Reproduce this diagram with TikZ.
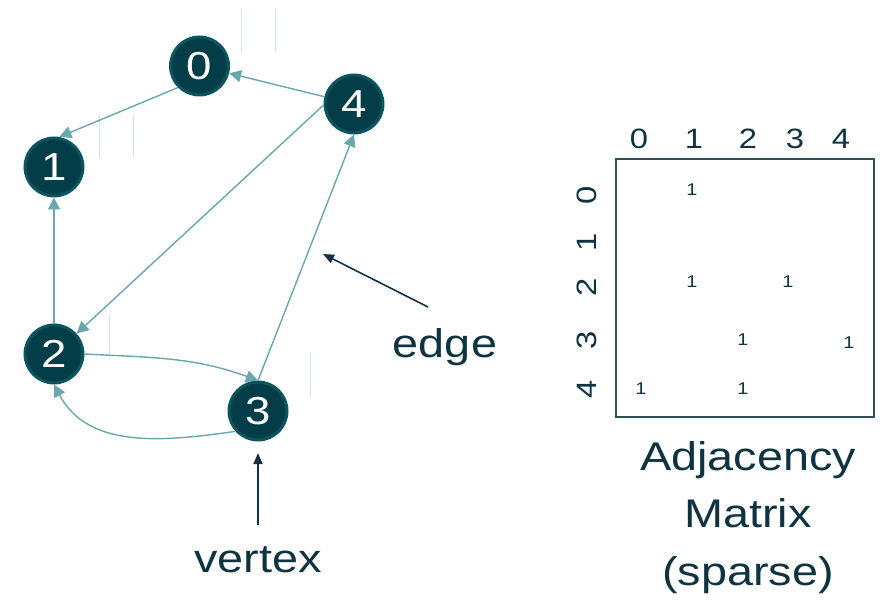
\documentclass[tikz,border=0pt]{standalone}
\usepackage{fontspec}
\setmainfont[FakeStretch=1.17]{Liberation Sans}
\usetikzlibrary{arrows.meta}
\definecolor{nodefill}{HTML}{033D47}
\definecolor{nodering}{HTML}{0A5560}
\definecolor{edgecol}{HTML}{6AA6AD}
\definecolor{txtcol}{HTML}{0D3440}
\definecolor{pointcol}{HTML}{12304A}
\definecolor{faintcol}{HTML}{D3E4E7}
\definecolor{boxcol}{HTML}{2F4F5A}
\tikzset{
  vert/.style={circle, fill=nodefill, draw=nodering, line width=3pt, minimum size=58pt, inner sep=0pt,
    text=white, font=\fontsize{39}{40}\selectfont},
  gedge/.style={draw=edgecol, line width=1.4pt, -{Triangle[length=12pt,width=12pt]}},
  pointer/.style={draw=pointcol, line width=1.6pt, -{Triangle[length=11pt,width=9pt]}},
  biglabel/.style={text=txtcol, font=\fontsize{40}{57.5}\selectfont, inner sep=0pt},
  axlabel/.style={text=txtcol, font=\fontsize{28}{30}\selectfont, inner sep=0pt},
  entry/.style={text=txtcol, font=\fontsize{17}{18}\selectfont, inner sep=0pt},
  faint/.style={draw=faintcol, line width=1pt}
}
\begin{document}
\begin{tikzpicture}[x=1pt,y=-1pt]
\useasboundingbox (0,0) rectangle (888,609);
% faint marks
\draw[faint] (241,9) -- (241,52);
\draw[faint] (275,9) -- (275,52);
\draw[faint] (99,115) -- (99,158);
\draw[faint] (133,115) -- (133,158);
\draw[faint] (109,314) -- (109,357);
\draw[faint] (310,352) -- (310,396);
% vertices
\node[vert] (n0) at (199.5,66) {0};
\node[vert] (n4) at (354,104) {4};
\node[vert] (n1) at (54,167) {1};
\node[vert] (n2) at (54,354) {2};
\node[vert] (n3) at (258,411) {3};
% edges
\draw[gedge] (n4) -- (n0);
\draw[gedge] (n0.225) -- (n1.80);
\draw[gedge] (n2) -- (n1);
\draw[gedge] (n4.182) -- (n2.42);
\draw[gedge] (n3.north) -- (n4.south);
\draw[gedge] (n2.east) to[out=-3, in=160] (n3.north);
\draw[gedge] (n3.222) to[out=188, in=-62] (n2.south);
% pointers
\node[biglabel, anchor=base] (edgelbl) at (445,357) {edge};
\node[biglabel, anchor=base] (vertlbl) at (258,572) {vertex};
\coordinate (edgefrom) at (428,307);
\coordinate (edgeto) at (323,254);
\coordinate (vertfrom) at (258,525);
\coordinate (vertto) at (258,453);
\draw[pointer] (edgefrom) -- (edgeto);
\draw[pointer] (vertfrom) -- (vertto);
% matrix
\node[draw=boxcol, line width=1.5pt, minimum width=258pt, minimum height=258pt, inner sep=0pt] (mat) at (745,288) {};
\foreach \i/\x in {0/639,1/694,2/748,3/795,4/841}{
  \node[axlabel] (c\i) at (\x,139) {\i};
}
\foreach \i/\y in {0/195,1/242,2/287,3/340,4/389}{
  \node[axlabel, rotate=90] (r\i) at (587,\y) {\i};
}
\node[entry] (e01) at (692,190) {1};
\node[entry] (e21) at (692,282) {1};
\node[entry] (e23) at (788,282) {1};
\node[entry] (e32) at (743,340) {1};
\node[entry] (e34) at (849,343) {1};
\node[entry] (e40) at (641,389) {1};
\node[entry] (e42) at (743,389) {1};
\node[biglabel, align=center, anchor=base] (title) at (748,585) {Adjacency\\Matrix\\(sparse)};
\end{tikzpicture}
\end{document}
